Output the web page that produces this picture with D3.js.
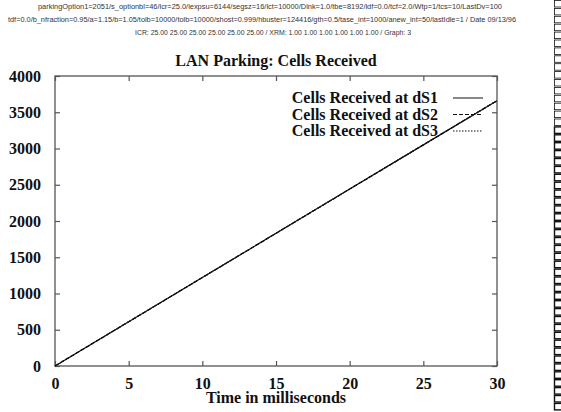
<!DOCTYPE html>
<html>
<head>
<meta charset="utf-8">
<script src="https://cdn.jsdelivr.net/npm/d3@7"></script>
<style>
  body { margin: 0; background: #fff; }
  svg { display: block; }
  text { font-family: "Liberation Serif", "DejaVu Serif", serif; fill: #111; }
  .hdr { font-family: "Liberation Sans", "DejaVu Sans", sans-serif; font-size: 6.5px; fill: #333; }
</style>
</head>
<body>
<div id="chart"></div>
<script>
// data
var timeMs = [0, 5, 10, 15, 20, 25, 30];
var cellsDS1 = [0, 610, 1220, 1830, 2440, 3050, 3660];
var cellsDS2 = [0, 610, 1220, 1830, 2440, 3050, 3660];
var cellsDS3 = [0, 610, 1220, 1830, 2440, 3050, 3660];
var seriesNames = ["Cells Received at dS1", "Cells Received at dS2", "Cells Received at dS3"];
var xTicks = [0, 5, 10, 15, 20, 25, 30];
var yTicks = [0, 500, 1000, 1500, 2000, 2500, 3000, 3500, 4000];
var headerLines = [
  "parkingOption1=2051/s_optionbl=46/lcr=25.0/lexpsu=6144/segsz=16/lct=10000/Dlnk=1.0/tbe=8192/ldf=0.0/tcf=2.0/Wtp=1/tcs=10/LastDv=100",
  "tdf=0.0/b_nfraction=0.95/a=1.15/b=1.05/tolb=10000/tolb=10000/shost=0.999/hbuster=124416/gth=0.5/tase_int=1000/anew_int=50/lastIdle=1 / Date 09/13/96",
  "ICR: 25.00 25.00 25.00 25.00 25.00 25.00 / XRM: 1.00 1.00 1.00 1.00 1.00 1.00 / Graph: 3"
];

var width = 561, height = 412;
var margin = {top: 76, right: 64, bottom: 46, left: 55};
var innerWidth = width - margin.left - margin.right,
    innerHeight = height - margin.top - margin.bottom;

var svg = d3.select("#chart").append("svg")
    .attr("width", width)
    .attr("height", height);

// little header with the run parameters
var hdrX = [270, 262, 273], hdrW = [464, 508, 276];
svg.selectAll(".hdr")
    .data(headerLines)
    .enter().append("text")
    .attr("class", "hdr")
    .attr("x", function(d, i) { return hdrX[i]; })
    .attr("y", function(d, i) { return 9 + i * 13; })
    .attr("text-anchor", "middle")
    .attr("textLength", function(d, i) { return hdrW[i]; })
    .attr("lengthAdjust", "spacingAndGlyphs")
    .text(function(d) { return d; });

// scanner strip on the right edge
svg.append("g").selectAll("rect")
    .data(d3.range(52))
    .enter().append("rect")
    .attr("x", 554.5)
    .attr("y", function(d) { return 0.5 + d * 7.9; })
    .attr("width", 8)
    .attr("height", 6.5)
    .attr("fill", "none")
    .attr("stroke", "#111")
    .attr("stroke-width", function(d) { return d < 16 ? 0.8 : 1.4; });

svg.append("text")
    .attr("x", margin.left + innerWidth / 2)
    .attr("y", 66)
    .attr("text-anchor", "middle")
    .style("font-size", "16px")
    .style("font-weight", "bold")
    .text("LAN Parking: Cells Received");

var g = svg.append("g")
    .attr("transform", "translate(" + margin.left + "," + margin.top + ")");

var x = d3.scaleLinear().domain([0, 30]).range([0, innerWidth]);
var y = d3.scaleLinear().domain([0, 4000]).range([innerHeight, 0]);

// frame
g.append("rect")
    .attr("width", innerWidth)
    .attr("height", innerHeight)
    .attr("fill", "none")
    .attr("stroke", "#555")
    .attr("stroke-width", 1.3);

// axes with inward ticks, mirrored on top and right
function styleAxis(sel) {
    sel.select(".domain").remove();
    sel.selectAll(".tick line").attr("stroke", "#555").attr("stroke-width", 1.2);
    sel.selectAll(".tick text")
        .style("font-family", '"Liberation Serif", serif')
        .style("font-size", "16px")
        .style("font-weight", "bold")
        .attr("fill", "#111");
}

g.append("g")
    .attr("transform", "translate(0," + innerHeight + ")")
    .call(d3.axisBottom(x).tickValues(xTicks).tickSize(-5).tickPadding(12).tickFormat(d3.format("d")))
    .call(styleAxis);
g.append("g")
    .call(d3.axisTop(x).tickValues(xTicks).tickSize(-5).tickFormat(""))
    .call(styleAxis);
g.append("g")
    .call(d3.axisLeft(y).tickValues(yTicks).tickSize(-5).tickPadding(14).tickFormat(d3.format("d")))
    .call(styleAxis);
g.append("g")
    .attr("transform", "translate(" + innerWidth + ",0)")
    .call(d3.axisRight(y).tickValues(yTicks).tickSize(-5).tickFormat(""))
    .call(styleAxis);

g.append("text")
    .attr("x", innerWidth / 2)
    .attr("y", innerHeight + 37)
    .attr("text-anchor", "middle")
    .style("font-size", "16px")
    .style("font-weight", "bold")
    .text("Time in milliseconds");

// series
var series = [cellsDS1, cellsDS2, cellsDS3];
var dashes = [null, "4,2", "1.5,1.5"];
var line = d3.line()
    .x(function(d, i) { return x(timeMs[i]); })
    .y(function(d) { return y(d); });

g.selectAll(".series")
    .data(series)
    .enter().append("path")
    .attr("class", "series")
    .attr("d", line)
    .attr("fill", "none")
    .attr("stroke", "#111")
    .attr("stroke-width", 1.2)
    .attr("stroke-dasharray", function(d, i) { return dashes[i]; });

// legend
var legend = g.selectAll(".legend")
    .data(seriesNames)
    .enter().append("g")
    .attr("class", "legend")
    .attr("transform", function(d, i) { return "translate(0," + (22 + i * 16.5) + ")"; });

legend.append("text")
    .attr("x", 383)
    .attr("y", 5)
    .attr("text-anchor", "end")
    .style("font-size", "16px")
    .style("font-weight", "bold")
    .text(function(d) { return d; });

legend.append("line")
    .attr("x1", 398)
    .attr("x2", 428)
    .attr("stroke", "#111")
    .attr("stroke-width", 1)
    .attr("stroke-dasharray", function(d, i) { return dashes[i]; });
</script>
</body>
</html>
